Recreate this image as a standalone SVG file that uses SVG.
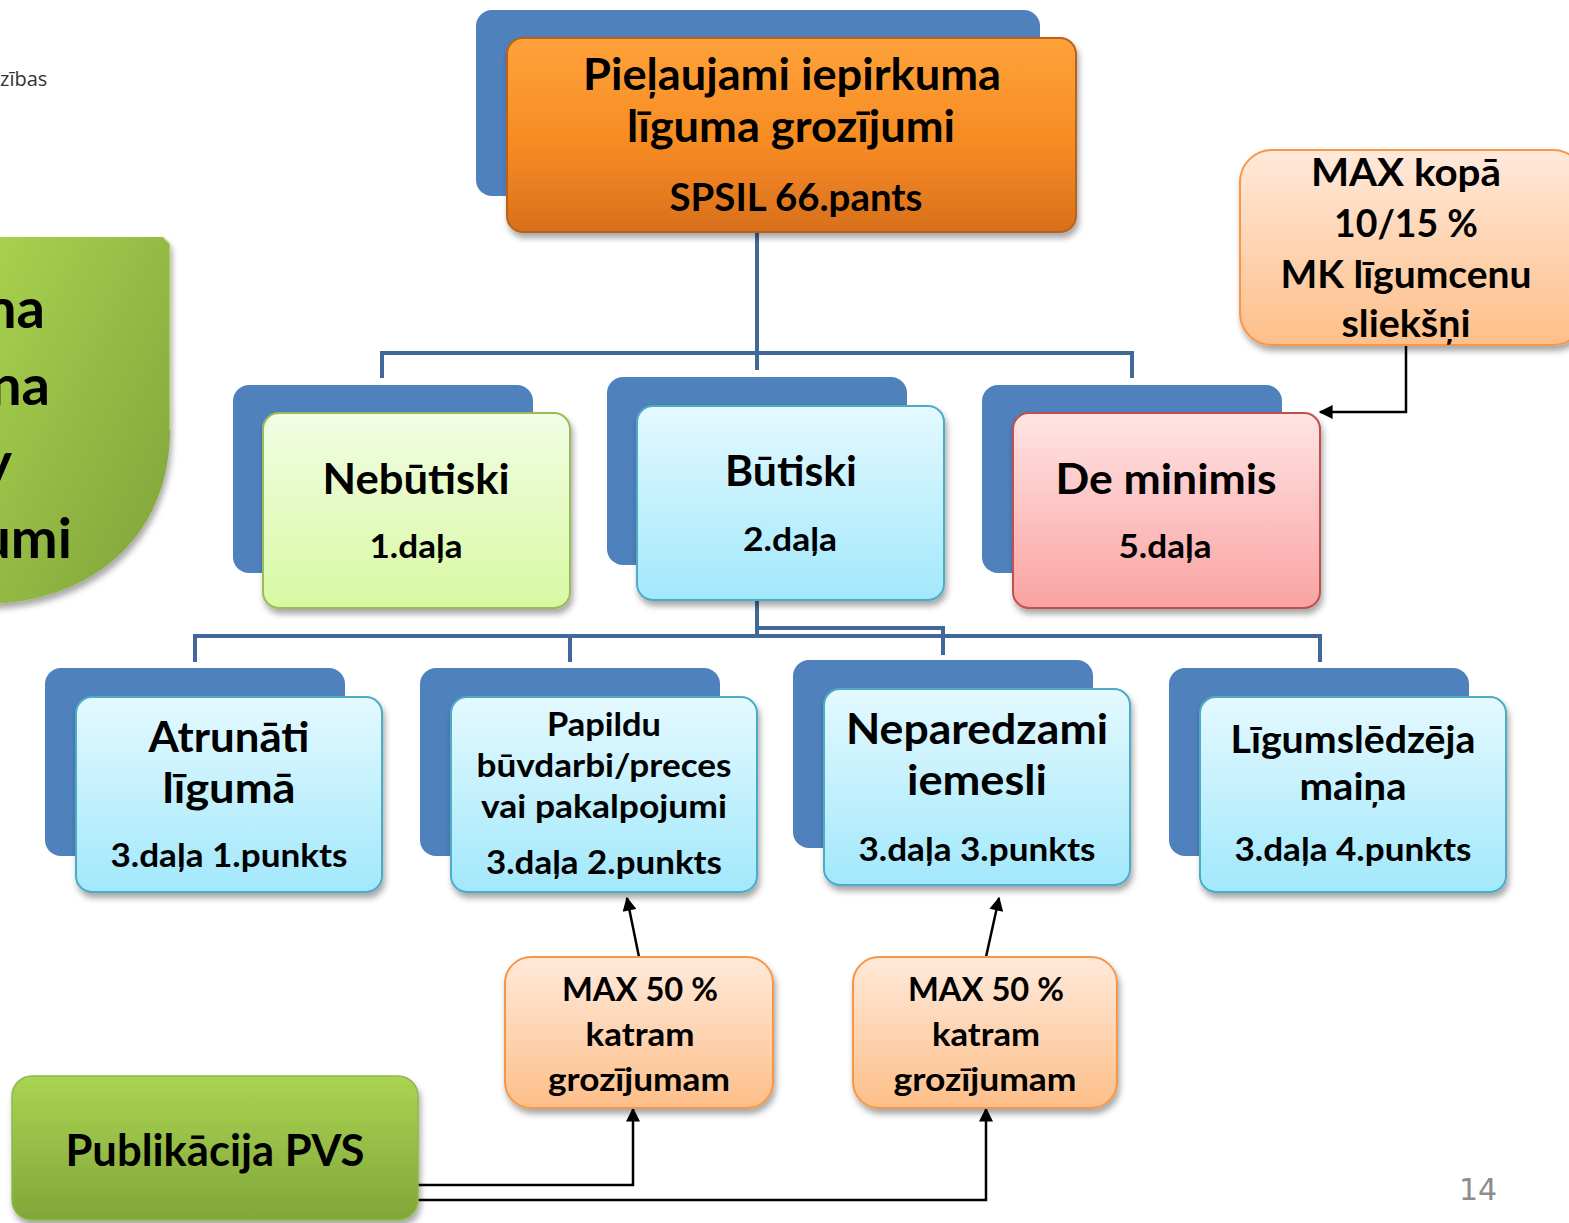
<svg xmlns="http://www.w3.org/2000/svg" width="1569" height="1223" viewBox="0 0 1569 1223">
<defs>
<linearGradient id="gOrange" x1="0" y1="0" x2="0" y2="1"><stop offset="0" stop-color="#ffa23a"/><stop offset="0.55" stop-color="#f68b22"/><stop offset="1" stop-color="#d8701e"/></linearGradient>
<linearGradient id="gBlue" x1="0" y1="0" x2="0" y2="1"><stop offset="0" stop-color="#e4f9ff"/><stop offset="1" stop-color="#a2e8fb"/></linearGradient>
<linearGradient id="gGreen" x1="0" y1="0" x2="0" y2="1"><stop offset="0" stop-color="#f2fde4"/><stop offset="1" stop-color="#d7f9a2"/></linearGradient>
<linearGradient id="gPink" x1="0" y1="0" x2="0" y2="1"><stop offset="0" stop-color="#ffe4e4"/><stop offset="1" stop-color="#f9a3a1"/></linearGradient>
<linearGradient id="gPeach" x1="0" y1="0" x2="0" y2="1"><stop offset="0" stop-color="#ffe9da"/><stop offset="1" stop-color="#fdbf89"/></linearGradient>
<linearGradient id="gLime" x1="0" y1="0" x2="0" y2="1"><stop offset="0" stop-color="#aad452"/><stop offset="1" stop-color="#82a63a"/></linearGradient>
<linearGradient id="gLimeSide" x1="0" y1="0" x2="1" y2="1"><stop offset="0" stop-color="#a9d24f"/><stop offset="1" stop-color="#7fa23a"/></linearGradient>
<filter id="sh" x="-10%" y="-10%" width="125%" height="130%"><feDropShadow dx="2" dy="5" stdDeviation="3" flood-color="#000" flood-opacity="0.35"/></filter>
<marker id="ah" viewBox="0 0 10 10" refX="9" refY="5" markerWidth="6" markerHeight="6" markerUnits="userSpaceOnUse" orient="auto"><path d="M0,0 L10,5 L0,10 Z" fill="#000"/></marker>
<marker id="ah2" viewBox="0 0 10 10" refX="9" refY="5" markerWidth="16" markerHeight="14" markerUnits="userSpaceOnUse" orient="auto"><path d="M0,0 L10,5 L0,10 Z" fill="#000"/></marker>
</defs>
<style>
.t{font-family:Lato,"Open Sans","Liberation Sans",sans-serif;font-weight:bold;fill:#000;text-anchor:middle}
.back{fill:#4f81bd}
.blue{fill:url(#gBlue);stroke:#4bacc6;stroke-width:2;filter:url(#sh)}
.peach{fill:url(#gPeach);stroke:#f79646;stroke-width:2;filter:url(#sh)}
.tree{fill:none;stroke:#41689b;stroke-width:4}
.arr{fill:none;stroke:#000;stroke-width:2.5}
</style>
<rect width="1569" height="1223" fill="#fff"/>

<text x="0" y="86" style="font-family:'Open Sans','Liberation Sans',sans-serif;font-size:20px;fill:#333">zības</text>

<g id="side">
<path d="M-10,237 L163,237 L170,244 L170,430 C170,530 100,600 -10,604 Z" fill="url(#gLimeSide)" filter="url(#sh)"/>
<path d="M163,237 L170,244 L170,430" fill="none" stroke="#c8e48a" stroke-width="1.5" opacity="0.7"/>
<text class="t" x="45" y="328" style="font-size:56px;text-anchor:end">na</text>
<text class="t" x="50" y="405" style="font-size:56px;text-anchor:end">na</text>
<text class="t" x="12" y="482" style="font-size:56px;text-anchor:end">y</text>
<text class="t" x="72" y="558" style="font-size:56px;text-anchor:end">umi</text>
</g>

<g id="connectors">
<path class="tree" d="M757,232 V370 M382,378 V353 H1132 V378"/>
<path class="tree" d="M757,600 V636 M195,662 V636 H1320 V662 M570,636 V662 M757,628 H943 V655"/>
<path class="arr" d="M1406,322 V412 H1320" marker-end="url(#ah2)"/>
<path class="arr" d="M639,957 L627,898" marker-end="url(#ah2)"/>
<path class="arr" d="M986,957 L999,898" marker-end="url(#ah2)"/>
<path class="arr" d="M418,1185 H633 V1109" marker-end="url(#ah2)"/>
<path class="arr" d="M418,1200 H986 V1109" marker-end="url(#ah2)"/>
</g>

<g id="root">
<rect class="back" x="476" y="10" width="564" height="186" rx="16"/>
<rect x="507" y="38" width="569" height="194" rx="16" fill="url(#gOrange)" stroke="#b8621c" stroke-width="2" filter="url(#sh)"/>
<text class="t" x="792" y="90" style="font-size:44px" textLength="418" lengthAdjust="spacingAndGlyphs">Pieļaujami iepirkuma</text>
<text class="t" x="791" y="142" style="font-size:44px" textLength="328" lengthAdjust="spacingAndGlyphs">līguma grozījumi</text>
<text class="t" x="796" y="211" style="font-size:38px" textLength="253" lengthAdjust="spacingAndGlyphs">SPSIL 66.pants</text>
</g>

<g id="maxkopa">
<rect class="peach" x="1240" y="150" width="345" height="195" rx="32"/>
<text class="t" x="1406" y="186" style="font-size:38px" textLength="190" lengthAdjust="spacingAndGlyphs">MAX  kopā</text>
<text class="t" x="1406" y="237" style="font-size:38px" textLength="144" lengthAdjust="spacingAndGlyphs">10/15 %</text>
<text class="t" x="1406" y="288" style="font-size:38px" textLength="251" lengthAdjust="spacingAndGlyphs">MK līgumcenu</text>
<text class="t" x="1406" y="337" style="font-size:38px" textLength="129" lengthAdjust="spacingAndGlyphs">sliekšņi</text>
</g>

<g id="nebutiski">
<rect class="back" x="233" y="385" width="300" height="188" rx="16"/>
<rect x="263" y="413" width="307" height="195" rx="16" fill="url(#gGreen)" stroke="#9bbb59" stroke-width="2" filter="url(#sh)"/>
<text class="t" x="416" y="494" style="font-size:42px" textLength="187" lengthAdjust="spacingAndGlyphs">Nebūtiski</text>
<text class="t" x="416" y="558" style="font-size:32px" textLength="93" lengthAdjust="spacingAndGlyphs">1.daļa</text>
</g>

<g id="butiski">
<rect class="back" x="607" y="377" width="300" height="188" rx="16"/>
<rect class="blue" x="637" y="406" width="307" height="194" rx="16"/>
<text class="t" x="791" y="486" style="font-size:42px" textLength="132" lengthAdjust="spacingAndGlyphs">Būtiski</text>
<text class="t" x="790" y="551" style="font-size:32px" textLength="94" lengthAdjust="spacingAndGlyphs">2.daļa</text>
</g>

<g id="deminimis">
<rect class="back" x="982" y="385" width="300" height="188" rx="16"/>
<rect x="1013" y="413" width="307" height="195" rx="16" fill="url(#gPink)" stroke="#c0504d" stroke-width="2" filter="url(#sh)"/>
<text class="t" x="1166" y="494" style="font-size:42px" textLength="221" lengthAdjust="spacingAndGlyphs">De minimis</text>
<text class="t" x="1165" y="558" style="font-size:32px" textLength="93" lengthAdjust="spacingAndGlyphs">5.daļa</text>
</g>

<g id="atrunati">
<rect class="back" x="45" y="668" width="300" height="188" rx="16"/>
<rect class="blue" x="76" y="697" width="306" height="195" rx="16"/>
<text class="t" x="229" y="752" style="font-size:42px" textLength="161" lengthAdjust="spacingAndGlyphs">Atrunāti</text>
<text class="t" x="229" y="803" style="font-size:42px" textLength="133" lengthAdjust="spacingAndGlyphs">līgumā</text>
<text class="t" x="229" y="867" style="font-size:32px" textLength="237" lengthAdjust="spacingAndGlyphs">3.daļa 1.punkts</text>
</g>

<g id="papildu">
<rect class="back" x="420" y="668" width="300" height="188" rx="16"/>
<rect class="blue" x="451" y="697" width="306" height="195" rx="16"/>
<text class="t" x="604" y="736" style="font-size:32px" textLength="114" lengthAdjust="spacingAndGlyphs">Papildu</text>
<text class="t" x="604" y="777" style="font-size:32px" textLength="255" lengthAdjust="spacingAndGlyphs">būvdarbi/preces</text>
<text class="t" x="604" y="818" style="font-size:32px" textLength="246" lengthAdjust="spacingAndGlyphs">vai pakalpojumi</text>
<text class="t" x="604" y="874" style="font-size:32px" textLength="236" lengthAdjust="spacingAndGlyphs">3.daļa 2.punkts</text>
</g>

<g id="neparedzami">
<rect class="back" x="793" y="660" width="300" height="188" rx="16"/>
<rect class="blue" x="824" y="689" width="306" height="196" rx="16"/>
<text class="t" x="977" y="744" style="font-size:42px" textLength="262" lengthAdjust="spacingAndGlyphs">Neparedzami</text>
<text class="t" x="977" y="795" style="font-size:42px" textLength="140" lengthAdjust="spacingAndGlyphs">iemesli</text>
<text class="t" x="977" y="861" style="font-size:32px" textLength="237" lengthAdjust="spacingAndGlyphs">3.daļa 3.punkts</text>
</g>

<g id="ligumsledzeja">
<rect class="back" x="1169" y="668" width="300" height="188" rx="16"/>
<rect class="blue" x="1200" y="697" width="306" height="195" rx="16"/>
<text class="t" x="1353" y="753" style="font-size:38px" textLength="245" lengthAdjust="spacingAndGlyphs">Līgumslēdzēja</text>
<text class="t" x="1353" y="800" style="font-size:38px" textLength="107" lengthAdjust="spacingAndGlyphs">maiņa</text>
<text class="t" x="1353" y="861" style="font-size:32px" textLength="237" lengthAdjust="spacingAndGlyphs">3.daļa 4.punkts</text>
</g>

<g id="max50a">
<rect class="peach" x="505" y="957" width="268" height="151" rx="26"/>
<text class="t" x="640" y="1001" style="font-size:32px" textLength="156" lengthAdjust="spacingAndGlyphs">MAX 50 %</text>
<text class="t" x="640" y="1046" style="font-size:32px" textLength="109" lengthAdjust="spacingAndGlyphs">katram</text>
<text class="t" x="639" y="1091" style="font-size:32px" textLength="182" lengthAdjust="spacingAndGlyphs">grozījumam</text>
</g>

<g id="max50b">
<rect class="peach" x="853" y="957" width="264" height="151" rx="26"/>
<text class="t" x="986" y="1001" style="font-size:32px" textLength="156" lengthAdjust="spacingAndGlyphs">MAX 50 %</text>
<text class="t" x="986" y="1046" style="font-size:32px" textLength="108" lengthAdjust="spacingAndGlyphs">katram</text>
<text class="t" x="985" y="1091" style="font-size:32px" textLength="183" lengthAdjust="spacingAndGlyphs">grozījumam</text>
</g>

<g id="publikacija">
<rect x="12" y="1076" width="406" height="144" rx="20" fill="url(#gLime)" stroke="#8fb848" stroke-width="1.5" filter="url(#sh)"/>
<text class="t" x="215" y="1166" style="font-size:44px" textLength="299" lengthAdjust="spacingAndGlyphs">Publikācija PVS</text>
</g>

<text x="1478" y="1200" style="font-family:'DejaVu Sans','Liberation Sans',sans-serif;font-size:30px;fill:#8c8c8c;text-anchor:middle">14</text>
</svg>
